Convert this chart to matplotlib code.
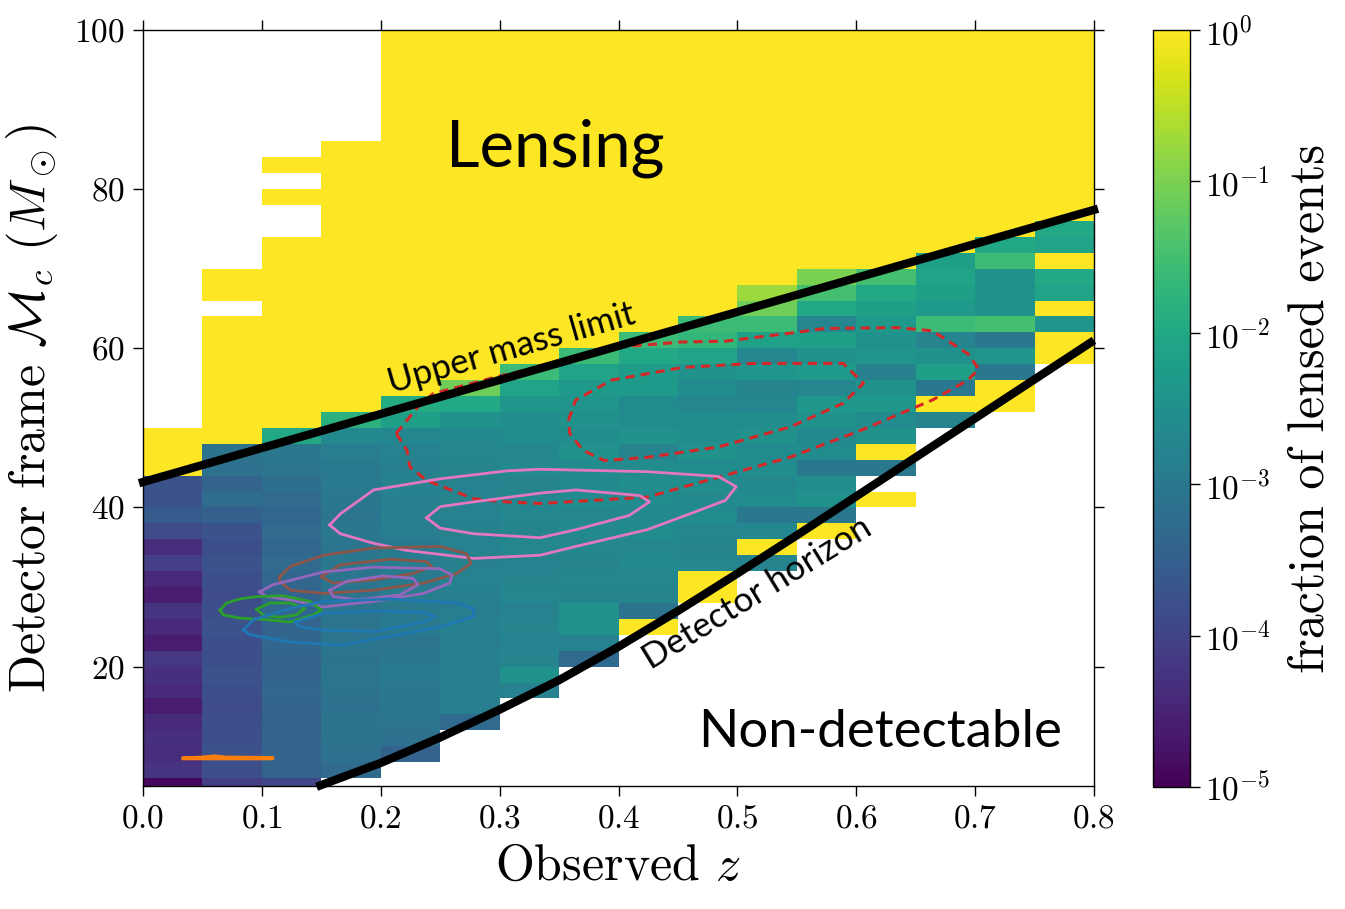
import numpy as np
import matplotlib
matplotlib.use("Agg")
import matplotlib.pyplot as plt
from matplotlib.colors import LogNorm

plt.rcParams.update({
    "font.family": "serif",
    "font.serif": ["cmr10", "DejaVu Serif"],
    "mathtext.fontset": "cm",
    "axes.formatter.use_mathtext": True,
    "axes.unicode_minus": False,
})

# ---------------- data ----------------
# histogram bins
z_lo, z_hi, n_z = 0.0, 0.8, 16
mc_lo, mc_hi, mc_step = 4, 100, 2

# per-column: lower edge of first filled Mc bin, top of yellow region
col_lo = [4, 4, 4, 6, 8, 12, 16, 20, 24, 28, 32, 36, 40, 50, 52, 58]
col_top = [50, 70, 84, 86, 100, 100, 100, 100, 100, 100, 100, 100, 100, 100, 100, 100]

# log10(fraction of lensed events), from the column's lower edge upward
# (0 = fraction 1, None = empty bin); above the list it is 1 up to col_top
c00 = [-4.9, -4.25, -4.35, -4.3, -4.4, -4.6, -4.4, -4.3, -4.2, -4.6, -4.4, -4.25, -4.6, -4.45,
       -4.1, -4.35, -3.85, -3.6, -3.75, -3.75]
c01 = [-4.1, -3.8, -3.75, -3.8, -3.8, -3.85, -3.8, -3.75, -3.8, -3.8, -3.75, -3.8, -3.85, -3.8,
       -3.75, -3.8, -3.75, -3.5, -3.25, -3.4, -3.15, -3.1, 0, 0, 0, 0, 0, 0, 0, 0, None, 0, 0]
c02 = [-3.95, -3.45, -3.4, -3.4, -3.45, -3.4, -3.35, -3.4, -3.4, -3.35, -3.4, -3.35, -3.4, -3.35,
       -3.3, -3.35, -3.3, -3.35, -3.3, -3.2, -3.05, -3.0, -2.0,
       0, 0, 0, 0, 0, 0, 0, 0, 0, 0, 0, 0, None, None, 0, None, 0]
c03 = [-3.3, -3.15, -3.1, -3.1, -3.15, -3.1, -3.05, -3.1, -3.05, -3.1, -3.05, -3.1, -3.05, -3.0,
       -3.05, -3.0, -3.05, -3.0, -2.95, -2.95, -2.9, -2.65, -1.8]
c04 = [-3.45, -3.15, -3.05, -3.0, -3.0, -2.95, -3.0, -3.05, -2.95, -2.95, -2.9, -2.95, -2.9,
       -2.95, -2.9, -2.85, -2.85, -2.8, -2.85, -2.8, -2.7, -2.2, -1.95]
c05 = [-3.3, -2.9, -2.85, -2.9, -2.85, -2.9, -2.85, -2.9, -2.85, -2.8, -2.85, -2.8, -2.85, -2.8,
       -2.75, -2.8, -2.75, -2.7, -2.65, -2.5, -2.0, -1.1]
c06 = [-2.8, -2.5, -2.75, -2.8, -2.75, -2.8, -2.7, -2.75, -2.8, -2.7, -2.75, -2.7, -2.7, -2.75,
       -2.65, -2.7, -2.6, -2.55, -2.4, -2.1, -1.6]
c07 = [-3.3, -2.8, -2.5, -2.5, -2.75, -2.7, -2.75, -2.7, -2.65, -2.7, -2.6, -2.65, -2.6, -2.5,
       -2.55, -2.5, -2.4, -2.3, -2.1, -1.6]
c08 = [0, -3.1, -2.75, -2.7, -2.65, -2.7, -2.6, -2.65, -2.6, -2.55, -2.6, -2.75, -2.5, -2.55,
       -2.6, -2.3, -2.25, -2.0, -1.6]
c09 = [0, 0, -2.7, -2.75, -2.7, -2.6, -2.65, -2.55, -2.6, -2.5, -2.55, -2.6, -2.7, -2.6, -2.5,
       -2.1, -1.7, -1.6]
c10 = [-2.75, 0, -2.7, -3.0, -2.6, -2.65, -2.55, -2.6, -2.5, -2.55, -2.7, -2.75, -2.4, -2.7,
       -2.15, -1.6, -1.1, -0.75]
c11 = [0, -3.0, -2.5, -2.55, -3.0, -2.6, -2.65, -2.5, -2.35, -2.7, -2.3, -2.5, -2.2, -2.7, -2.0,
       -1.5, -1.0]
c12 = [0, None, -3.0, 0, -2.5, -2.6, -2.35, -2.5, -2.85, -2.4, -2.5, -2.3, -2.2, -2.0, -1.5]
c13 = [-2.75, 0, -3.0, -2.2, -2.5, -2.75, -1.6, -2.3, -2.2, -2.1, -2.2]
c14 = [0, 0, -3.0, -2.4, -3.0, -1.5, -2.5, -2.45, -2.5, -1.6, -2.0]
c15 = [0, 0, -2.4, 0, -2.1, -2.0, 0, -2.1, -2.0]
columns = [c00, c01, c02, c03, c04, c05, c06, c07, c08, c09, c10, c11, c12, c13, c14, c15]

# model curves (observed z, detector-frame chirp mass)
upper_z = [0.0, 0.8]
upper_mc = [43.2, 77.4]
horizon_z = [0.146, 0.2, 0.25, 0.3, 0.35, 0.4, 0.45, 0.5, 0.55, 0.6, 0.65, 0.7, 0.75, 0.8]
horizon_mc = [4.9, 7.9, 11.1, 14.6, 18.3, 22.5, 27.0, 31.7, 36.5, 41.4, 46.3, 51.2, 56.1, 61.0]

# event posterior contours (z, Mc)
red_out_z = [0.213, 0.231, 0.244, 0.297, 0.351, 0.403, 0.454, 0.49, 0.544, 0.574, 0.634, 0.664,
             0.694, 0.703, 0.694, 0.664, 0.604, 0.544, 0.484, 0.424, 0.334, 0.306, 0.278, 0.2386,
             0.2245, 0.222]
red_out_mc = [49.3, 52.6, 54.3, 56.4, 58.3, 60.2, 60.8, 60.9, 61.9, 62.5, 62.6, 62.2, 59.3, 57.4,
              56.0, 53.5, 49.7, 46.3, 43.8, 41.3, 40.5, 40.7, 41.1, 43.4, 45.1, 47.2]
red_in_z = [0.358, 0.364, 0.394, 0.454, 0.514, 0.589, 0.606, 0.589, 0.544, 0.484, 0.424, 0.388,
            0.37, 0.359]
red_in_mc = [51.0, 53.5, 56.0, 57.6, 58.1, 58.1, 55.6, 53.1, 50.1, 47.6, 46.3, 45.9, 47.2, 49.3]
pink_out_z = [0.157, 0.166, 0.194, 0.25, 0.306, 0.334, 0.424, 0.484, 0.499, 0.49, 0.469, 0.424,
              0.364, 0.334, 0.278, 0.222, 0.194, 0.166]
pink_out_mc = [37.8, 39.2, 42.2, 43.6, 44.6, 44.8, 44.5, 43.9, 42.6, 40.9, 39.7, 37.2, 35.1, 34.0,
               33.6, 34.6, 35.5, 36.7]
pink_in_z = [0.2385, 0.25, 0.278, 0.334, 0.364, 0.418, 0.426, 0.409, 0.364, 0.334, 0.278, 0.25]
pink_in_mc = [38.7, 40.1, 40.7, 41.8, 42.2, 41.5, 40.7, 39.0, 37.2, 36.2, 36.7, 37.4]
brown_out_z = [0.115, 0.124, 0.152, 0.194, 0.25, 0.272, 0.276, 0.264, 0.236, 0.194, 0.152, 0.124,
               0.115]
brown_out_mc = [31.3, 32.6, 34.0, 34.9, 35.1, 34.2, 33.0, 31.7, 30.5, 29.6, 29.2, 29.6, 30.7]
brown_in_z = [0.150, 0.166, 0.208, 0.2385, 0.243, 0.227, 0.194, 0.16]
brown_in_mc = [31.3, 32.8, 33.5, 33.2, 32.55, 31.7, 30.9, 30.5]
purple_out_z = [0.098, 0.1095, 0.152, 0.194, 0.25, 0.26, 0.258, 0.236, 0.194, 0.152, 0.124, 0.104]
purple_out_mc = [29.4, 30.3, 31.9, 32.5, 32.3, 31.5, 30.5, 29.2, 28.2, 27.5, 28.4, 28.8]
purple_in_z = [0.157, 0.171, 0.202, 0.227, 0.2315, 0.216, 0.18, 0.16]
purple_in_mc = [29.6, 30.7, 31.4, 31.1, 30.3, 29.0, 28.4, 28.8]
green_out_z = [0.0648, 0.0703, 0.0815, 0.0956, 0.118, 0.1404, 0.150, 0.143, 0.124, 0.104, 0.0815,
               0.0675]
green_out_mc = [27.1, 28.0, 28.5, 28.8, 28.9, 28.2, 27.1, 26.5, 25.6, 25.9, 26.1, 26.5]
green_in_z = [0.0956, 0.1068, 0.1236, 0.136, 0.129, 0.115, 0.101]
green_in_mc = [27.2, 28.0, 28.0, 27.3, 26.5, 26.2, 26.5]
blue_out_z = [0.0844, 0.0928, 0.124, 0.152, 0.208, 0.264, 0.278, 0.278, 0.25, 0.208, 0.166, 0.124,
              0.09]
blue_out_mc = [24.6, 25.9, 27.3, 28.2, 28.5, 28.0, 27.3, 26.3, 25.0, 23.8, 22.7, 23.1, 24.0]
blue_in_z = [0.128, 0.152, 0.194, 0.236, 0.2455, 0.236, 0.194, 0.152, 0.132]
blue_in_mc = [25.6, 26.7, 27.0, 26.8, 26.3, 25.6, 24.4, 24.6, 25.0]
orange_z = [0.034, 0.05, 0.06, 0.07, 0.109, 0.109, 0.034]
orange_mc = [8.5, 8.6, 8.75, 8.6, 8.55, 8.45, 8.45]

cbar_ticks = [1e-5, 1e-4, 1e-3, 1e-2, 1e-1, 1e0]
x_ticks = [0.0, 0.1, 0.2, 0.3, 0.4, 0.5, 0.6, 0.7, 0.8]
y_ticks = [20, 40, 60, 80, 100]

# ---------------- build grid ----------------
z_edges = np.linspace(z_lo, z_hi, n_z + 1)
mc_edges = np.arange(mc_lo, mc_hi + mc_step, mc_step)
n_mc = len(mc_edges) - 1
logf = np.full((n_mc, n_z), np.nan)
for j, (lo, top, vals) in enumerate(zip(col_lo, col_top, columns)):
    i0 = (lo - mc_lo) // mc_step
    for k, v in enumerate(vals):
        if v is not None:
            logf[i0 + k, j] = v
    for i in range(i0 + len(vals), (top - mc_lo) // mc_step):
        logf[i, j] = 0.0
frac = np.ma.masked_invalid(10.0 ** logf)

# ---------------- plot ----------------
fig = plt.figure(figsize=(13.45, 9.09), dpi=100)
ax = fig.add_axes([143 / 1345, 123 / 909, 951 / 1345, 756 / 909])
cax = fig.add_axes([1153 / 1345, 122 / 909, 37 / 1345, 757 / 909])

mesh = ax.pcolormesh(z_edges, mc_edges, frac, cmap="viridis",
                     norm=LogNorm(vmin=1e-5, vmax=1.0), shading="flat")

def closed(a):
    return list(a) + [a[0]]

lw_c = 2.0
for zz, mm in [(red_out_z, red_out_mc), (red_in_z, red_in_mc)]:
    ax.plot(closed(zz), closed(mm), color="#d62728", lw=2.2, ls=(0, (3.0, 2.0)),
            dash_capstyle="butt", dash_joinstyle="round")
for zz, mm, c in [(pink_out_z, pink_out_mc, "#e377c2"), (pink_in_z, pink_in_mc, "#e377c2"),
                  (brown_out_z, brown_out_mc, "#8c564b"), (brown_in_z, brown_in_mc, "#8c564b"),
                  (purple_out_z, purple_out_mc, "#9467bd"), (purple_in_z, purple_in_mc, "#9467bd"),
                  (green_out_z, green_out_mc, "#2ca02c"), (green_in_z, green_in_mc, "#2ca02c"),
                  (blue_out_z, blue_out_mc, "#1f77b4"), (blue_in_z, blue_in_mc, "#1f77b4")]:
    ax.plot(closed(zz), closed(mm), color=c, lw=lw_c, solid_joinstyle="round")
ax.plot(orange_z, orange_mc, color="#ff7f0e", lw=2.5, solid_joinstyle="round")

ax.plot(upper_z, upper_mc, color="black", lw=6, solid_capstyle="projecting", clip_on=False,
        zorder=5)
ax.plot(horizon_z, horizon_mc, color="black", lw=6, solid_capstyle="butt", clip_on=False,
        zorder=5)

ax.set_xlim(z_lo, z_hi)
ax.set_ylim(5, 100)
ax.set_xticks(x_ticks)
ax.set_yticks(y_ticks)
ax.tick_params(axis="both", which="both", direction="out", length=7, width=1,
               labelsize=24, top=True, right=True, pad=6)
for s in ax.spines.values():
    s.set_linewidth(1.0)

ax.set_xlabel(r"Observed $z$", fontsize=36, labelpad=8)
ax.set_ylabel(r"Detector frame $\mathcal{M}_c$ $(M_\odot)$", fontsize=36, labelpad=10)

ann = ["Lato", "DejaVu Sans"]
ax.text(0.3465, 85.1, "Lensing", fontsize=47, family=ann, ha="center", va="center")
ax.text(0.62, 11.7, "Non-detectable", fontsize=38, family=ann, ha="center", va="center")
ax.text(0.31, 60.0, "Upper mass limit", fontsize=25, family=ann, ha="center", va="center",
        rotation=15.9, rotation_mode="anchor")
ax.text(0.517, 29.2, "Detector horizon", fontsize=25, family=ann, ha="center", va="center",
        rotation=31.5, rotation_mode="anchor")

cb = fig.colorbar(mesh, cax=cax)
cb.set_ticks(cbar_ticks)
cb.ax.minorticks_off()
cb.ax.tick_params(labelsize=24, direction="out", length=7, width=1)
cb.outline.set_linewidth(1.0)
cb.set_label("fraction of lensed events", fontsize=36, labelpad=12)

fig.savefig("out.png", dpi=100)
